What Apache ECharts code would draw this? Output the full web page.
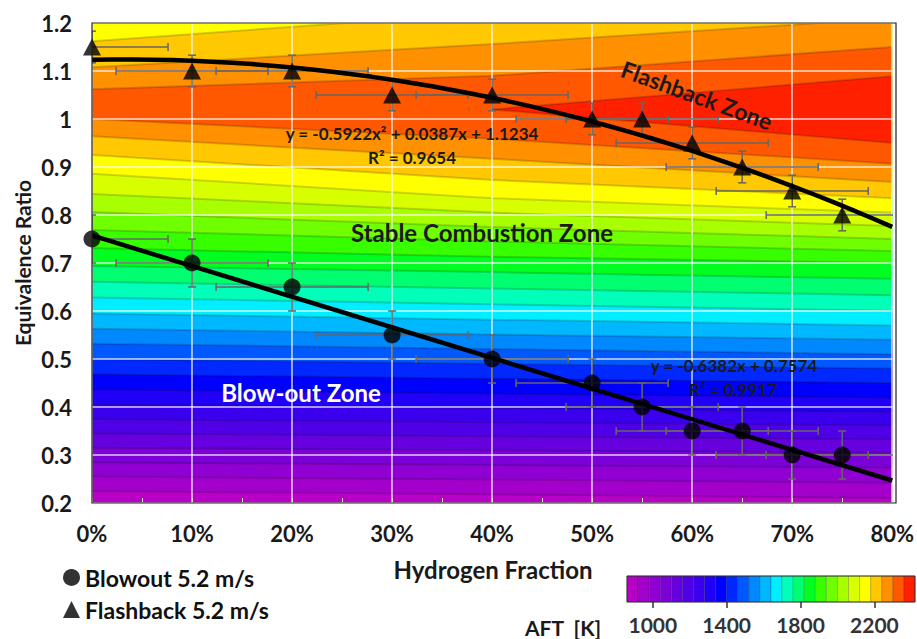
<!DOCTYPE html>
<html>
<head>
<meta charset="utf-8">
<script src="https://cdn.jsdelivr.net/npm/echarts@6/dist/echarts.min.js"></script>
<style>
  html, body { margin: 0; padding: 0; background: #fff; }
  #chart { width: 917px; height: 639px; }
</style>
</head>
<body>
<div id="chart"></div>
<script>
// Measured stability limits at 5.2 m/s: hydrogen fraction vs equivalence ratio
const h2Fraction   = [0, 0.10, 0.20, 0.30, 0.40, 0.50, 0.55, 0.60, 0.65, 0.70, 0.75];
const blowoutPhi   = [0.75, 0.70, 0.65, 0.55, 0.50, 0.45, 0.40, 0.35, 0.35, 0.30, 0.30];
const flashbackPhi = [1.15, 1.10, 1.10, 1.05, 1.05, 1.00, 1.00, 0.95, 0.90, 0.85, 0.80];

// Error bar half-widths
const h2FractionError   = 0.076;
const blowoutPhiError   = 0.05;
const flashbackPhiError = 0.033;

// Fitted trend lines
const blowoutFit   = [-0.6382, 0.7574];          // slope, intercept
const flashbackFit = [-0.5922, 0.0387, 1.1234];  // x², x, constant

// Adiabatic flame temperature contours: equivalence ratio of each level
// on the lean side and rich side, at 0 %, 40 % and 80 % hydrogen
const contourH2 = [0, 0.4, 0.8];
const aftLevels = [920, 980, 1040, 1100, 1160, 1220, 1280, 1340, 1400, 1460, 1520, 1580, 1640,
                   1700, 1760, 1820, 1880, 1940, 2000, 2060, 2120, 2180, 2240, 2300, 2360];
const leanEdge = [
  [0.225, 0.218, 0.211], [0.255, 0.249, 0.242], [0.285, 0.279, 0.274], [0.315, 0.310, 0.305],
  [0.345, 0.339, 0.333], [0.375, 0.368, 0.362], [0.405, 0.398, 0.390], [0.437, 0.428, 0.420],
  [0.468, 0.459, 0.450], [0.500, 0.490, 0.480], [0.532, 0.521, 0.510], [0.563, 0.551, 0.540],
  [0.595, 0.582, 0.570], [0.628, 0.614, 0.600], [0.661, 0.647, 0.633], [0.694, 0.681, 0.667],
  [0.731, 0.713, 0.700], [0.769, 0.745, 0.725], [0.806, 0.775, 0.750], [0.844, 0.805, 0.777],
  [0.886, 0.835, 0.805], [0.925, 0.873, 0.835], [0.964, 0.917, 0.869], [1.000, 0.959, 0.907],
  [null, 1.020, 0.950]
];
const richEdge = [
  [null, null, null], [null, null, null], [null, null, null], [null, null, null],
  [null, null, null], [null, null, null], [null, null, null], [null, null, null],
  [null, null, null], [null, null, null], [null, null, null], [null, null, null],
  [null, null, null], [null, null, null], [null, null, null], [null, null, null],
  [null, null, null], [null, null, null], [null, null, null], [1.310, null, null],
  [1.237, 1.290, 1.330], [1.162, 1.222, 1.270], [1.108, 1.156, 1.210], [1.062, 1.090, 1.150],
  [null, 1.020, 1.089]
];

// Colour scale of the temperature bands
const aftBandEdges = [860, 920, 980, 1040, 1100, 1160, 1220, 1280, 1340, 1400, 1460, 1520, 1580, 1640,
                      1700, 1760, 1820, 1880, 1940, 2000, 2060, 2120, 2180, 2240, 2300, 2360, 2420];
const aftBandColors = [
  '#b800c8', '#a400cc', '#9000d2', '#7c00d8', '#6600de', '#5000e6', '#3a00ee', '#2000f6',
  '#0000ff', '#0028ff', '#0058ff', '#0088ff', '#00b8ff', '#00eeff', '#00ffb8', '#00ff70',
  '#00ff20', '#38ff00', '#70ff00', '#a8ff00', '#d8ff00', '#ffff00', '#ffc800', '#ff9000',
  '#ff5800', '#ff2000'
];
const colorbarTicks = [1000, 1400, 1800, 2200];

const FONT = 'Lato';
const INK = '#1a1a1a';

// ---- series data -------------------------------------------------------
const blowoutPoints   = h2Fraction.map((x, i) => [x, blowoutPhi[i]]);
const flashbackPoints = h2Fraction.map((x, i) => [x, flashbackPhi[i]]);
const blowoutErrors   = h2Fraction.map((x, i) => [x, blowoutPhi[i], h2FractionError, blowoutPhiError]);
const flashbackErrors = h2Fraction.map((x, i) => [x, flashbackPhi[i], h2FractionError, flashbackPhiError]);

const blowoutLine = [0, 0.8].map(x => [x, blowoutFit[0] * x + blowoutFit[1]]);
const flashbackLine = [];
for (let k = 0; k <= 40; k++) {
  const x = k * 0.02;
  flashbackLine.push([x, flashbackFit[0] * x * x + flashbackFit[1] * x + flashbackFit[2]]);
}

const contourItems = aftLevels.map((t, i) => [i, t]);
const colorbarItems = aftBandColors.map((c, i) => [aftBandEdges[i], aftBandEdges[i + 1], i]);

// ---- renderers -----------------------------------------------------------
function bandPolygon(params, api) {
  const i = api.value(0);
  const cs = params.coordSys;
  const children = [];
  if (i === 0) {
    children.push({ type: 'rect', shape: { x: cs.x, y: cs.y, width: cs.width, height: cs.height },
                    style: { fill: aftBandColors[0] } });
  }
  const bottom = [], top = [];
  contourH2.forEach((x, j) => {
    if (leanEdge[i][j] == null) return;
    const p = api.coord([x, leanEdge[i][j]]);
    bottom.push(p);
    const r = richEdge[i][j];
    top.push(r == null ? [p[0], cs.y - 10] : api.coord([x, r]));
  });
  const pts = bottom.concat(top.reverse());
  children.push({ type: 'polygon', shape: { points: pts }, style: { fill: aftBandColors[i + 1] } });
  return { type: 'group', children };
}

function contourLines(params, api) {
  const i = api.value(0);
  const lean = [], rich = [];
  contourH2.forEach((x, j) => {
    if (leanEdge[i][j] != null) lean.push(api.coord([x, leanEdge[i][j]]));
    if (richEdge[i][j] != null) rich.push(api.coord([x, richEdge[i][j]]));
  });
  const st = { stroke: 'rgba(0,0,0,0.17)', lineWidth: 2, fill: null };
  const children = [{ type: 'polyline', shape: { points: lean }, style: st }];
  if (rich.length > 1) children.push({ type: 'polyline', shape: { points: rich }, style: st });
  return { type: 'group', children };
}

function errorBars(params, api) {
  const x = api.value(0), y = api.value(1), ex = api.value(2), ey = api.value(3);
  const l = api.coord([x - ex, y]), r = api.coord([x + ex, y]);
  const t = api.coord([x, y + ey]), b = api.coord([x, y - ey]);
  const c = 4;
  const st = { stroke: '#666666', lineWidth: 1.5 };
  const seg = (x1, y1, x2, y2) => ({ type: 'line', shape: { x1, y1, x2, y2 }, style: st });
  return { type: 'group', children: [
    seg(l[0], l[1], r[0], r[1]),
    seg(l[0], l[1] - c, l[0], l[1] + c),
    seg(r[0], r[1] - c, r[0], r[1] + c),
    seg(t[0], t[1], b[0], b[1]),
    seg(t[0] - c, t[1], t[0] + c, t[1]),
    seg(b[0] - c, b[1], b[0] + c, b[1])
  ]};
}

function colorbarCell(params, api) {
  const a = api.coord([api.value(0), 1]);
  const b = api.coord([api.value(1), 0]);
  return { type: 'rect', shape: { x: a[0], y: a[1], width: b[0] - a[0], height: b[1] - a[1] },
           style: { fill: aftBandColors[api.value(2)], stroke: 'rgba(0,0,0,0.22)', lineWidth: 0.8 } };
}

// ---- chart ---------------------------------------------------------------
const chart = echarts.init(document.getElementById('chart'), null, { renderer: 'svg' });
const label = (extra) => Object.assign({ fontFamily: FONT, fontWeight: 'bold', color: INK }, extra);
const txt = (text, x, y, size, extra) => ({
  type: 'text', x, y, z: 20,
  rotation: (extra && extra.rotation) || 0,
  style: { text, align: 'center', verticalAlign: 'middle',
           font: `bold ${size}px ${FONT}`, fill: (extra && extra.fill) || INK }
});

chart.setOption({
  animation: false,
  textStyle: { fontFamily: FONT },
  grid: [
    { left: 92, top: 23, width: 804, height: 480 },
    { left: 627, top: 576, width: 288, height: 26 }
  ],
  xAxis: [
    {
      gridIndex: 0, type: 'value', min: 0, max: 0.8, interval: 0.1, z: 1,
      axisLine: { show: false },
      axisTick: { show: true, inside: true, length: 5, lineStyle: { color: '#e6e6e6', width: 1 } },
      minorTick: { show: true, splitNumber: 2, length: 5, lineStyle: { color: '#e6e6e6', width: 1 } },
      splitLine: { show: true, lineStyle: { color: 'rgba(255,255,255,0.8)', width: 1.5 } },
      axisLabel: label({ fontSize: 22, margin: 19, formatter: v => Math.round(v * 100) + '%' })
    },
    {
      gridIndex: 1, type: 'value', min: 860, max: 2420,
      axisLine: { show: false }, splitLine: { show: false },
      axisTick: { show: true, customValues: colorbarTicks, length: 6, lineStyle: { color: '#333', width: 1.5 } },
      axisLabel: label({ customValues: colorbarTicks, fontSize: 21, color: '#333', margin: 12,
                         formatter: v => String(v) })
    }
  ],
  yAxis: [
    {
      gridIndex: 0, type: 'value', min: 0.2, max: 1.2, interval: 0.1, z: 1,
      axisLine: { show: false }, axisTick: { show: false },
      splitLine: { show: true, lineStyle: { color: 'rgba(255,255,255,0.8)', width: 1.5 } },
      axisLabel: label({ fontSize: 22, margin: 20, formatter: v => String(+v.toFixed(1)) })
    },
    { gridIndex: 1, type: 'value', min: 0, max: 1, show: false }
  ],
  legend: {
    orient: 'vertical', left: 58, top: 561, itemWidth: 17, itemHeight: 17, itemGap: 9,
    textStyle: label({ fontSize: 23, color: '#111' }),
    data: [
      { name: 'Blowout 5.2 m/s', icon: 'circle' },
      { name: 'Flashback 5.2 m/s', icon: 'triangle' }
    ]
  },
  series: [
    { type: 'custom', name: 'AFT bands', xAxisIndex: 0, yAxisIndex: 0, z: 0, clip: true, silent: true,
      renderItem: bandPolygon, data: contourItems },
    { type: 'custom', name: 'AFT contours', xAxisIndex: 0, yAxisIndex: 0, z: 0, clip: true, silent: true,
      renderItem: contourLines, data: contourItems },
    { type: 'custom', name: 'Blowout error', xAxisIndex: 0, yAxisIndex: 0, z: 2, clip: true,
      renderItem: errorBars, data: blowoutErrors },
    { type: 'custom', name: 'Flashback error', xAxisIndex: 0, yAxisIndex: 0, z: 2, clip: true,
      renderItem: errorBars, data: flashbackErrors },
    { type: 'line', name: 'Blowout trend', z: 3, data: blowoutLine, showSymbol: false, clip: true,
      lineStyle: { color: '#000', width: 4.5 } },
    { type: 'line', name: 'Flashback trend', z: 3, data: flashbackLine, showSymbol: false, clip: true,
      lineStyle: { color: '#000', width: 4.5 } },
    { type: 'scatter', name: 'Blowout 5.2 m/s', z: 4, symbol: 'circle', symbolSize: 17,
      itemStyle: { color: '#000' }, data: blowoutPoints },
    { type: 'scatter', name: 'Flashback 5.2 m/s', z: 4, symbol: 'triangle', symbolSize: [18, 17],
      itemStyle: { color: '#000' }, data: flashbackPoints },
    { type: 'custom', name: 'AFT colour scale', xAxisIndex: 1, yAxisIndex: 1, silent: true,
      renderItem: colorbarCell, data: colorbarItems }
  ],
  graphic: [
    { type: 'rect', z: 15, shape: { x: 92, y: 23, width: 804, height: 480 },
      style: { fill: null, stroke: '#222', lineWidth: 1.2 } },
    { type: 'rect', z: 15, shape: { x: 627, y: 576, width: 288, height: 26 },
      style: { fill: null, stroke: '#333', lineWidth: 1 } },
    txt('Equivalence Ratio', 22, 263, 21, { rotation: Math.PI / 2 }),
    txt('Hydrogen Fraction', 493, 569, 24),
    txt('AFT  [K]', 563, 627, 21),
    txt('Flashback Zone', 697, 95, 23, { rotation: -20 * Math.PI / 180 }),
    txt('Stable Combustion Zone', 482, 232, 24),
    txt('Blow-out Zone', 301, 392, 24, { fill: '#ffffff' }),
    txt('y = -0.5922x² + 0.0387x + 1.1234', 412, 133, 17),
    txt('R² = 0.9654', 412, 157, 17),
    txt('y = -0.6382x + 0.7574', 734, 365, 17),
    txt('R² = 0.9917', 733, 389, 17)
  ]
});
</script>
</body>
</html>
